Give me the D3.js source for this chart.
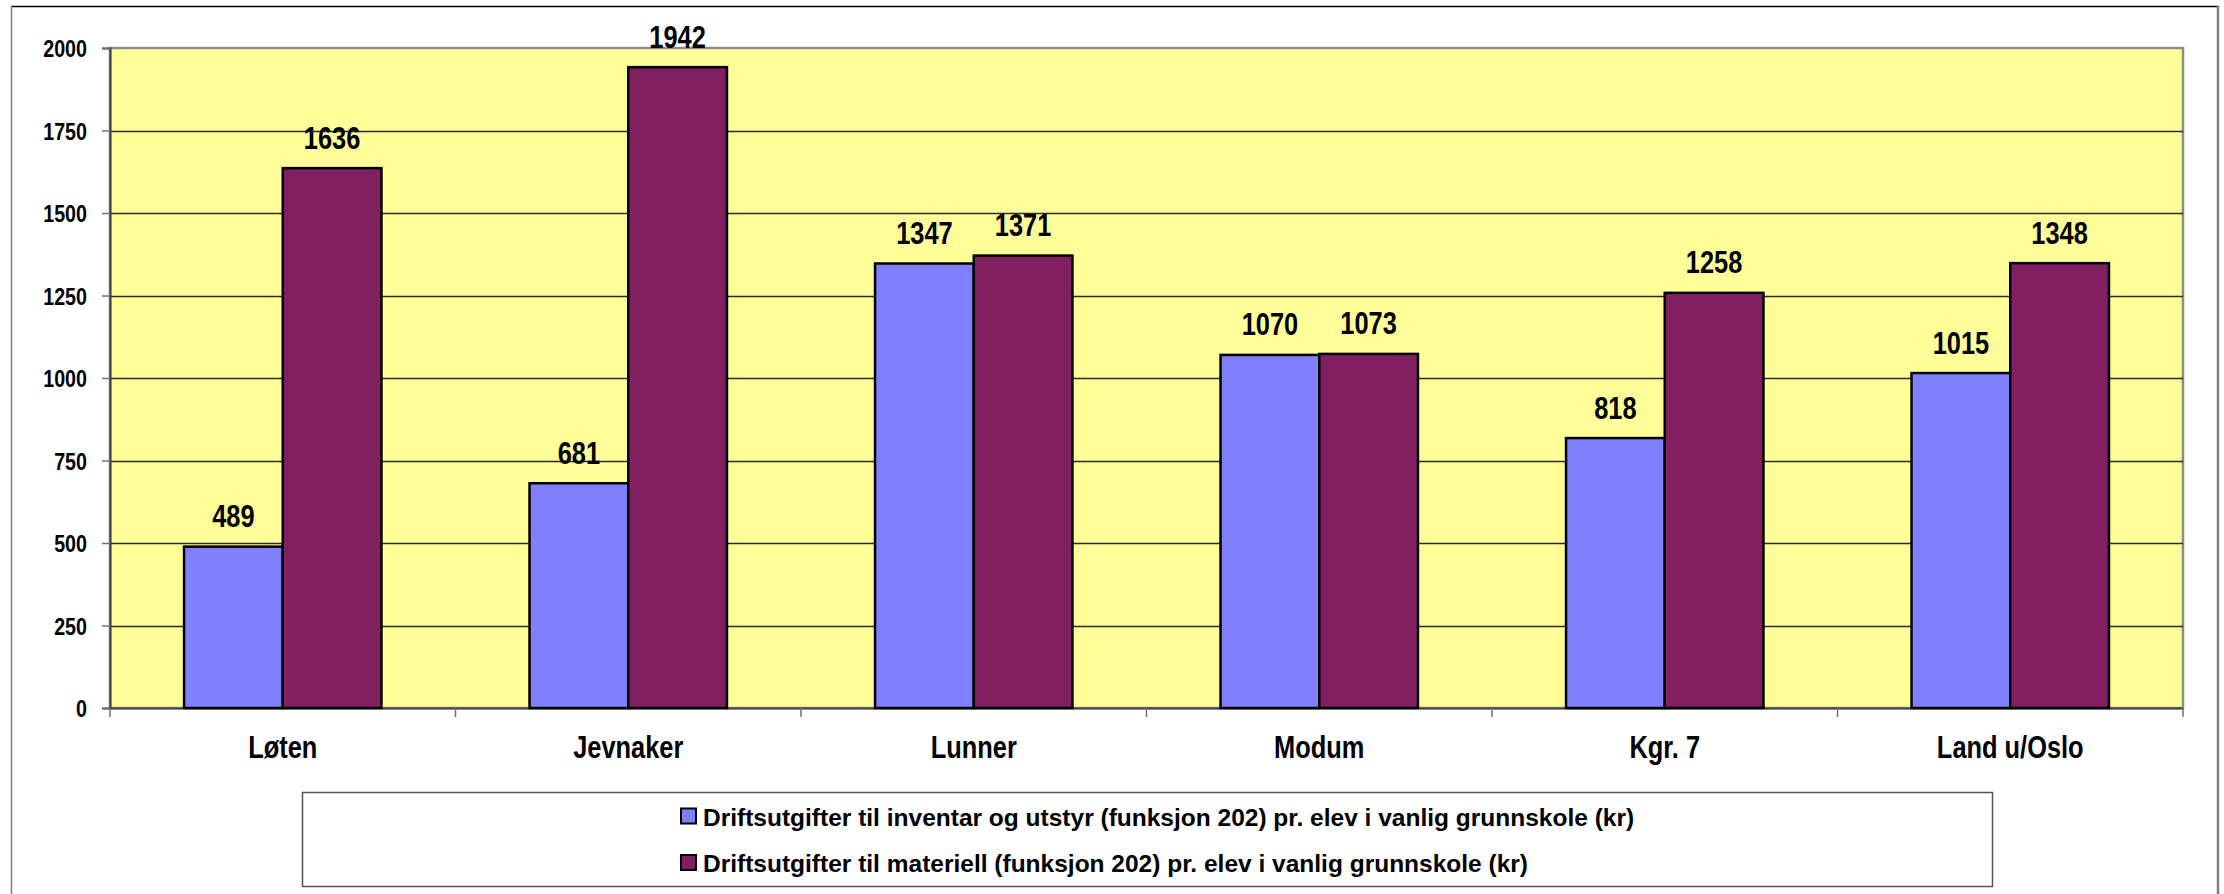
<!DOCTYPE html>
<html>
<head>
<meta charset="utf-8">
<script src="https://cdn.jsdelivr.net/npm/d3@7"></script>
<style>
  body { margin: 0; background: #ffffff; }
  svg text { font-family: "Liberation Sans", Arial, sans-serif; font-weight: bold; fill: #000; }
</style>
</head>
<body>
<div id="chart"></div>
<script>
// Data
const categories = ["Løten", "Jevnaker", "Lunner", "Modum", "Kgr. 7", "Land u/Oslo"];
const seriesNames = [
  "Driftsutgifter til inventar og utstyr (funksjon 202) pr. elev i vanlig grunnskole (kr)",
  "Driftsutgifter til materiell (funksjon 202) pr. elev i vanlig grunnskole (kr)"
];
const inventarValues = [489, 681, 1347, 1070, 818, 1015];
const materiellValues = [1636, 1942, 1371, 1073, 1258, 1348];
const yTicks = [0, 250, 500, 750, 1000, 1250, 1500, 1750, 2000];
const colors = ["#8080FF", "#802060"];

const dataset = categories.map((c, i) => ({
  category: c,
  values: [
    { key: seriesNames[0], value: inventarValues[i] },
    { key: seriesNames[1], value: materiellValues[i] }
  ]
}));

// Dimensions
const dimensions = {
  width: 2224,
  height: 894,
  plotLeft: 110,
  plotRight: 2183,
  plotTop: 48,
  plotBottom: 708
};
const narrow = 0.82; // the labels use a condensed face

// squeeze a text horizontally around its anchor point
function condense(sel) {
  sel.each(function () {
    const t = d3.select(this);
    const x = +t.attr("x") || 0;
    const y = +t.attr("y") || 0;
    t.attr("x", 0)
      .attr("y", 0)
      .attr("transform", `translate(${x}, ${y}) scale(${narrow}, 1)`);
  });
}

const svg = d3
  .select("#chart")
  .append("svg")
  .attr("width", dimensions.width)
  .attr("height", dimensions.height);

// outer chart frame (bottom is cut off in the original)
svg.append("line")
  .attr("x1", 11).attr("x2", 2219).attr("y1", 6.5).attr("y2", 6.5)
  .attr("stroke", "#000").attr("stroke-width", 1.5);
svg.append("line")
  .attr("x1", 11.5).attr("x2", 11.5).attr("y1", 6).attr("y2", dimensions.height)
  .attr("stroke", "#808080").attr("stroke-width", 1.5);
svg.append("line")
  .attr("x1", 2218).attr("x2", 2218).attr("y1", 6).attr("y2", dimensions.height)
  .attr("stroke", "#808080").attr("stroke-width", 2.5);

// Scales
const x0 = d3.scaleBand()
  .domain(categories)
  .range([dimensions.plotLeft, dimensions.plotRight])
  .paddingInner(1.5 / 3.5)
  .paddingOuter(0.75 / 3.5);

const x1 = d3.scaleBand()
  .domain(seriesNames)
  .range([0, x0.bandwidth()]);

const yScale = d3.scaleLinear()
  .domain([0, 2000])
  .range([dimensions.plotBottom, dimensions.plotTop]);

// plot area
svg.append("rect")
  .attr("x", dimensions.plotLeft)
  .attr("y", dimensions.plotTop)
  .attr("width", dimensions.plotRight - dimensions.plotLeft)
  .attr("height", dimensions.plotBottom - dimensions.plotTop)
  .attr("fill", "#FFFF99")
  .attr("stroke", "#8c8c8c")
  .attr("stroke-width", 2.5);

// grid lines
svg.append("g")
  .selectAll("line")
  .data(yTicks.filter((d) => d > 0 && d < 2000))
  .join("line")
  .attr("x1", dimensions.plotLeft)
  .attr("x2", dimensions.plotRight)
  .attr("y1", (d) => Math.round(yScale(d)) + 0.5)
  .attr("y2", (d) => Math.round(yScale(d)) + 0.5)
  .attr("stroke", "#2a2a2a")
  .attr("stroke-width", 1.3);

// Y axis
const yAxis = d3.axisLeft(yScale)
  .tickValues(yTicks)
  .tickSize(8)
  .tickPadding(15)
  .tickFormat((d) => d);

const gY = svg.append("g")
  .attr("transform", `translate(${dimensions.plotLeft}, 0)`)
  .call(yAxis);

gY.select(".domain").attr("stroke", "#404040").attr("stroke-width", 2);
gY.selectAll(".tick line").attr("stroke", "#707070").attr("stroke-width", 1.5);
gY.selectAll(".tick text")
  .attr("font-size", 24)
  .attr("font-family", null)
  .attr("dy", "0.36em")
  .call(condense);

// X axis
const xAxis = d3.axisBottom(x0).tickSize(0).tickPadding(0);
const gX = svg.append("g")
  .attr("transform", `translate(0, ${dimensions.plotBottom})`)
  .call(xAxis);
gX.select(".domain").attr("stroke", "#404040").attr("stroke-width", 2);
gX.selectAll(".tick text")
  .attr("font-size", 31)
  .attr("font-family", null)
  .attr("y", 50)
  .attr("dy", 0)
  .call(condense);

// tick marks between categories
const step = x0.step();
const boundaries = d3.range(categories.length + 1).map((i) => dimensions.plotLeft + i * step);
gX.append("g")
  .selectAll("line")
  .data(boundaries)
  .join("line")
  .attr("x1", (d) => d)
  .attr("x2", (d) => d)
  .attr("y1", 0)
  .attr("y2", 9)
  .attr("stroke", "#707070")
  .attr("stroke-width", 1.5);

// Bars
const groups = svg.append("g")
  .selectAll("g")
  .data(dataset)
  .join("g")
  .attr("transform", (d) => `translate(${x0(d.category)}, 0)`);

groups.selectAll("rect")
  .data((d) => d.values)
  .join("rect")
  .attr("x", (d) => x1(d.key))
  .attr("y", (d) => yScale(d.value))
  .attr("width", x1.bandwidth())
  .attr("height", (d) => yScale(0) - yScale(d.value))
  .attr("fill", (d, i) => colors[i])
  .attr("stroke", "#000")
  .attr("stroke-width", 2.5);

// value labels
groups.selectAll("text")
  .data((d) => d.values)
  .join("text")
  .attr("x", (d) => x1(d.key) + x1.bandwidth() / 2)
  .attr("y", (d) => yScale(d.value) - 19.5)
  .attr("text-anchor", "middle")
  .attr("font-size", 31)
  .text((d) => d.value)
  .call(condense);

// Legend
const legend = svg.append("g");
legend.append("rect")
  .attr("x", 302.5)
  .attr("y", 792.5)
  .attr("width", 1690)
  .attr("height", 94)
  .attr("fill", "#fff")
  .attr("stroke", "#555")
  .attr("stroke-width", 1.5);

const legendRows = legend.selectAll("g")
  .data(seriesNames)
  .join("g")
  .attr("transform", (d, i) => `translate(681, ${816 + i * 46.5})`);

legendRows.append("rect")
  .attr("x", 0)
  .attr("y", -7.5)
  .attr("width", 15)
  .attr("height", 15)
  .attr("fill", (d, i) => colors[i])
  .attr("stroke", "#000")
  .attr("stroke-width", 2);

legendRows.append("text")
  .attr("x", 22)
  .attr("y", 9.5)
  .attr("font-size", 24.5)
  .text((d) => d);
</script>
</body>
</html>
